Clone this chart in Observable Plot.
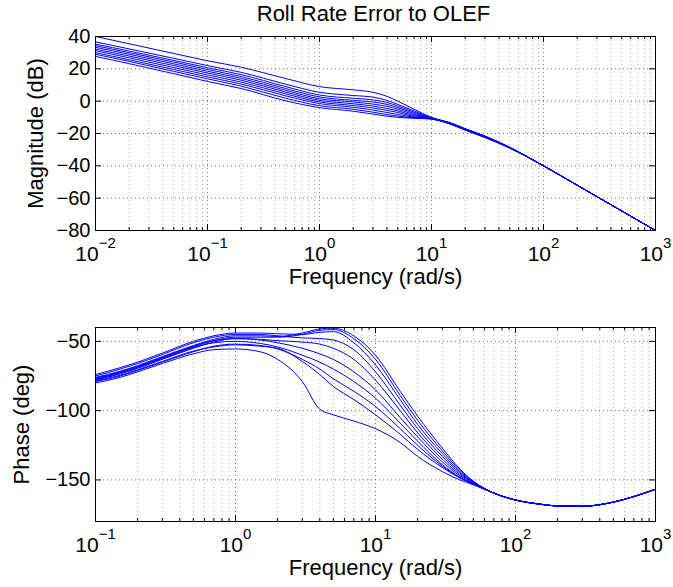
<!DOCTYPE html>
<html><head><meta charset="utf-8">
<script src="https://cdn.jsdelivr.net/npm/d3@7"></script>
<script src="https://cdn.jsdelivr.net/npm/@observablehq/plot@0.6"></script>
<style>
html,body{margin:0;padding:0;background:#fff;}
#chart svg{display:block;}
</style></head><body><div id="chart"></div>
<script>
const TITLE = "Roll Rate Error to OLEF";
const X_LABEL = "Frequency (rad/s)";
const MAG_LABEL = "Magnitude (dB)";
const PHASE_LABEL = "Phase (deg)";

const MAG_TICKS = [40, 20, 0, -20, -40, -60, -80];
const PHASE_TICKS = [-50, -100, -150];
const MAG_X_TICKS = [0.01, 0.1, 1, 10, 100, 1000];
const PHASE_X_TICKS = [0.1, 1, 10, 100, 1000];

// Magnitude (dB), one array per curve, at MAG_F
const MAG_F = [0.01, 0.02, 0.05, 0.1, 0.2, 0.5, 1, 2, 3, 4, 5, 7, 10, 15, 20, 30, 50];
const mag1  = [40, 35.5, 29.5, 25, 21, 14, 9, 7, 5.5, 3, 0, -5, -10, -13.5, -17, -21.5, -28.5];
const mag2  = [36.7, 32.3, 26.5, 22, 17.8, 10.5, 5.5, 3.5, 2.5, 0.5, -2, -6, -10.3, -13.7, -17.1, -21.7, -28.6];
const mag3  = [35.3, 31, 25.2, 20.7, 16.4, 9, 3.8, 1.8, 0.8, -0.8, -3, -6.8, -10.5, -13.8, -17.2, -21.8, -28.7];
const mag4  = [34.3, 30, 24.2, 19.6, 15.2, 7.8, 2.6, 0.5, -0.5, -2, -4, -7.5, -10.6, -13.9, -17.3, -21.9, -28.7];
const mag5  = [33.3, 29, 23.1, 18.5, 14.1, 6.7, 1.5, -0.5, -1.8, -3.2, -5, -8.2, -10.7, -14, -17.4, -22, -28.8];
const mag6  = [32.2, 27.9, 22, 17.4, 13, 5.6, 0.5, -1.6, -3, -4.5, -6, -9, -10.8, -14.1, -17.5, -22.1, -28.8];
const mag7  = [31.2, 26.8, 20.8, 16.2, 11.8, 4.5, -0.5, -2.7, -4.2, -5.7, -7, -9.5, -10.9, -14.2, -17.6, -22.2, -28.9];
const mag8  = [30, 25.6, 19.6, 15, 10.6, 3.3, -1.5, -3.8, -5.5, -7, -8.2, -10, -11, -14.3, -17.7, -22.3, -28.9];
const mag9  = [29, 24.6, 18.4, 13.8, 9.3, 1.8, -2.8, -5, -6.8, -8.3, -9.2, -10.4, -11, -14.3, -17.8, -22.4, -29];
const mag10 = [27.7, 23.2, 17, 12.2, 7.8, 0.2, -4, -6.2, -8, -9.3, -10, -10.6, -11, -14.4, -17.9, -22.5, -29];
// shared high-frequency tail
const MAG_TAIL_F = [100, 200, 1000];
const MAG_TAIL   = [-40, -52, -80];

// Phase (deg), one array per curve, at PH_F
const PH_F = [0.1, 0.15, 0.2, 0.3, 0.5, 0.7, 1, 1.5, 2, 3, 4, 5, 7, 10, 15, 20, 30, 40, 50];
const ph1  = [-76, -71.5, -67.5, -61, -53, -48.5, -46, -46, -46.5, -44, -41, -40.5, -46, -60, -86, -104, -127, -142, -151];
const ph2  = [-77, -72.5, -68.5, -62, -54, -49.5, -47, -47, -47, -45, -42, -41.5, -48, -63, -89, -107, -129, -143, -151];
const ph3  = [-74, -69, -65, -58.5, -50, -46, -44, -44, -44.5, -45, -43.5, -43, -51, -67, -92, -110, -131, -144, -151.5];
const ph4  = [-75, -70, -66, -59.5, -51, -47, -45, -45, -46, -47.5, -48, -49, -56, -72, -96, -113, -133, -145, -152];
const ph5  = [-78, -73.5, -69.5, -63, -55, -50.5, -48, -48.5, -49.5, -50.5, -52, -55, -63, -78, -100, -116, -135, -146, -152];
const ph6  = [-76.5, -72, -68, -61.5, -53.5, -49.5, -48, -49, -51, -55, -59, -63, -72, -85, -105, -119, -137, -147, -152.5];
const ph7  = [-77.5, -73, -69, -62.5, -54.5, -51, -50, -51.5, -54, -60, -65, -70, -79, -91, -109, -122, -139, -148, -153];
const ph8  = [-79, -75, -71, -65, -57.5, -53.5, -52, -53, -55.5, -63, -70, -77, -86, -97, -113, -125, -140, -148.5, -153];
const ph9  = [-78.5, -74.5, -70.5, -64.5, -57, -54, -52.5, -53.5, -55, -64.5, -74, -82.5, -92, -103, -117, -128, -141, -148.5, -153];
const ph10 = [-80, -76, -72, -66, -59, -56, -55.5, -57.5, -63, -79, -99, -103, -107.5, -113, -123, -133, -144, -150, -153.5];
const PH_TAIL_F = [70, 100, 150, 200, 300, 500, 700, 1000];
const PH_TAIL   = [-159.5, -164.5, -167.5, -168.8, -169, -166, -162, -156.7];

const MAG_CURVES = [mag1, mag2, mag3, mag4, mag5, mag6, mag7, mag8, mag9, mag10];
const PH_CURVES = [ph1, ph2, ph3, ph4, ph5, ph6, ph7, ph8, ph9, ph10];

function buildRows(freqs, curves, tailF, tailV) {
  const rows = [];
  curves.forEach((vals, i) => {
    freqs.forEach((f, j) => rows.push({f, v: vals[j], s: i}));
    tailF.forEach((f, j) => rows.push({f, v: tailV[j], s: i}));
  });
  return rows;
}
function minorTicks(lo, hi) {
  const out = [];
  for (let k = lo; k < hi; k++) for (let m = 2; m <= 9; m++) out.push(m * Math.pow(10, k));
  return out;
}

const FONT = "'Liberation Sans', Arial, Helvetica, sans-serif";
const W = 673, ML = 95, MR = 18, FW = W - ML - MR, FH = 194;
const BLUE = "#0000ff";
const supFmt = d => "10^" + Math.round(Math.log10(d));

function panel({height, marginTop, marginBottom, xDomain, yDomain, xTicks, xMinor, yTicks, rows, yLabel, yLabelDx, title}) {
  const marks = [
    Plot.ruleX(xMinor, {stroke: "#000", strokeOpacity: 0.3, strokeDasharray: "1,3"}),
    Plot.ruleX(xTicks, {stroke: "#000", strokeOpacity: 0.55, strokeDasharray: "1,3"}),
    Plot.ruleY(yTicks, {stroke: "#000", strokeOpacity: 0.55, strokeDasharray: "1,3"}),
    Plot.line(rows, {x: "f", y: "v", z: "s", stroke: BLUE, strokeWidth: 1, curve: "monotone-x", clip: true}),
    Plot.ruleX(xTicks, {stroke: "#000", insetTop: FH - 6}),
    Plot.ruleX(xTicks, {stroke: "#000", insetBottom: FH - 6}),
    Plot.ruleX(xMinor, {stroke: "#000", insetTop: FH - 3}),
    Plot.ruleX(xMinor, {stroke: "#000", insetBottom: FH - 3}),
    Plot.ruleY(yTicks, {stroke: "#000", insetRight: FW - 6}),
    Plot.ruleY(yTicks, {stroke: "#000", insetLeft: FW - 6}),
    Plot.frame({stroke: "#000"}),
    Plot.axisY({ticks: yTicks, tickSize: 0, tickPadding: 5, fontSize: 20, label: null}),
    Plot.axisX({ticks: xTicks, tickSize: 0, tickPadding: 16, fontSize: 21, label: null, tickFormat: supFmt}),
    Plot.text([X_LABEL], {text: d => d, frameAnchor: "bottom", dy: 53, lineAnchor: "bottom", textAnchor: "middle", fontSize: 22}),
    Plot.text([yLabel], {text: d => d, frameAnchor: "left", dx: yLabelDx, rotate: -90, lineAnchor: "bottom", textAnchor: "middle", fontSize: 22})
  ];
  if (title) marks.push(Plot.text([title], {text: d => d, frameAnchor: "top", dy: -16, dx: -2, lineAnchor: "bottom", textAnchor: "middle", fontSize: 22}));
  const svg = Plot.plot({
    width: W, height, marginTop, marginBottom, marginLeft: ML, marginRight: MR,
    style: {fontFamily: FONT, background: "#fff", color: "#000"},
    x: {type: "log", domain: xDomain},
    y: {domain: yDomain},
    marks
  });
  const ns = "http://www.w3.org/2000/svg";
  svg.querySelectorAll('g[aria-label="x-axis tick label"] text').forEach(t => {
    const e = t.textContent.split("^")[1].replace("-", "\u2212");
    t.textContent = "";
    const a = document.createElementNS(ns, "tspan"); a.textContent = "10";
    const b = document.createElementNS(ns, "tspan"); b.textContent = e;
    b.setAttribute("dy", "-13.5"); b.setAttribute("font-size", "15");
    t.append(a, b);
  });
  return svg;
}

const chart = document.getElementById("chart");
chart.append(panel({
  height: 295, marginTop: 36, marginBottom: 65,
  xDomain: [0.01, 1000], yDomain: [-80, 40],
  xTicks: MAG_X_TICKS, xMinor: minorTicks(-2, 3), yTicks: MAG_TICKS,
  rows: buildRows(MAG_F, MAG_CURVES, MAG_TAIL_F, MAG_TAIL),
  yLabel: MAG_LABEL, yLabelDx: -53, title: TITLE
}));
chart.append(panel({
  height: 292, marginTop: 32, marginBottom: 66,
  xDomain: [0.1, 1000], yDomain: [-180, -40],
  xTicks: PHASE_X_TICKS, xMinor: minorTicks(-1, 3), yTicks: PHASE_TICKS,
  rows: buildRows(PH_F, PH_CURVES, PH_TAIL_F, PH_TAIL),
  yLabel: PHASE_LABEL, yLabelDx: -67
}));
</script></body></html>
